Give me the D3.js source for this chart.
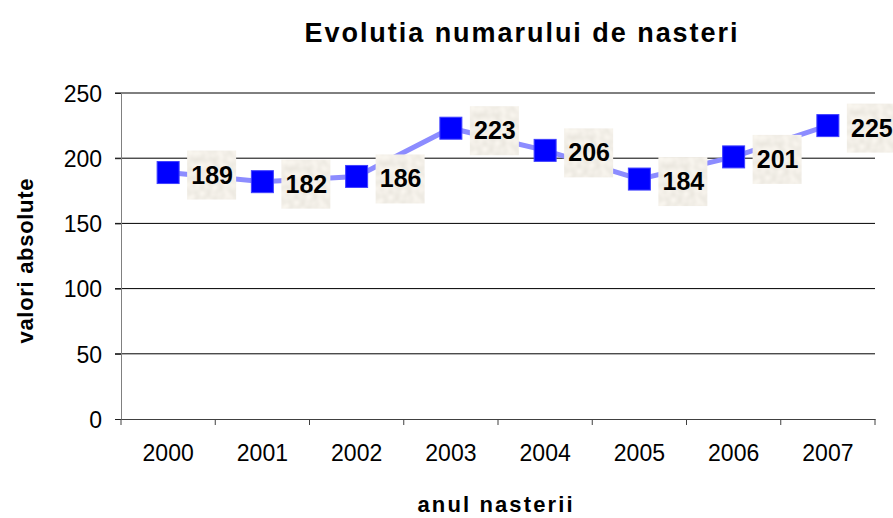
<!DOCTYPE html>
<html>
<head>
<meta charset="utf-8">
<script src="https://cdn.jsdelivr.net/npm/d3@7"></script>
<style>
  body { margin: 0; background: #fff; }
  text { font-family: "Liberation Sans", Arial, sans-serif; }
</style>
</head>
<body>
<svg width="893" height="518"></svg>
<script>
// Data
let years = ["2000", "2001", "2002", "2003", "2004", "2005", "2006", "2007"];
let births = [189, 182, 186, 223, 206, 184, 201, 225];
let yTicks = [0, 50, 100, 150, 200, 250];

let svg = d3.select("svg");
let margin = { top: 93, right: 18, bottom: 99, left: 121 };
let width = +svg.attr("width") - margin.left - margin.right;
let height = +svg.attr("height") - margin.top - margin.bottom;

let x = d3.scaleBand().domain(years).range([0, width]);
let y = d3.scaleLinear().domain([0, 250]).range([height, 0]);

// texture for the label boxes
let defs = svg.append("defs");
let filt = defs.append("filter").attr("id", "paper")
  .attr("x", 0).attr("y", 0).attr("width", 1).attr("height", 1);
filt.append("feTurbulence").attr("type", "fractalNoise")
  .attr("baseFrequency", 0.16).attr("numOctaves", 1).attr("seed", 5).attr("result", "noise");
filt.append("feColorMatrix").attr("in", "noise").attr("type", "matrix")
  .attr("values", "0.22 0 0 0 0.78  0.22 0 0 0 0.75  0.22 0 0 0 0.69  0 0 0 0 1")
  .attr("result", "tint");
filt.append("feComposite").attr("in", "tint").attr("in2", "SourceGraphic").attr("operator", "in");

let g = svg.append("g").attr("transform", `translate(${margin.left},${margin.top})`);

// gridlines (extend over the tick marks)
g.append("g")
  .selectAll("line")
  .data(yTicks.filter(d => d > 0))
  .enter().append("line")
  .attr("x1", -6).attr("x2", width)
  .attr("y1", d => y(d)).attr("y2", d => y(d))
  .attr("stroke", "#000").attr("stroke-width", 1);

// y axis
let yAxis = g.append("g")
  .call(d3.axisLeft(y).tickValues(yTicks).tickSize(6).tickPadding(13));
yAxis.select(".domain").attr("stroke", "#808080");
yAxis.selectAll(".tick line").attr("stroke", "#202020");
yAxis.selectAll("text").attr("font-size", 23).attr("fill", "#000")
  .attr("dy", "0.36em")
  .attr("font-family", "Liberation Sans, Arial, sans-serif");

// x axis
let xAxis = g.append("g")
  .attr("transform", `translate(0,${height})`)
  .call(d3.axisBottom(x).tickSize(0).tickPadding(26));
xAxis.select(".domain").attr("stroke", "#404040");
xAxis.selectAll(".tick line").remove();
xAxis.selectAll("text").attr("font-size", 23).attr("fill", "#000")
  .attr("font-family", "Liberation Sans, Arial, sans-serif");
// category boundary ticks
g.append("g")
  .selectAll("line")
  .data(d3.range(years.length + 1))
  .enter().append("line")
  .attr("x1", d => d * x.step()).attr("x2", d => d * x.step())
  .attr("y1", height).attr("y2", height + 6)
  .attr("stroke", "#404040");

let cx = d => x(d) + x.bandwidth() / 2;

// line
let line = d3.line()
  .x((d, i) => cx(years[i]))
  .y(d => y(d));
g.append("path")
  .datum(births)
  .attr("d", line)
  .attr("fill", "none")
  .attr("stroke", "#8c8cff")
  .attr("stroke-width", 5);

// markers
g.append("g")
  .selectAll("rect")
  .data(births)
  .enter().append("rect")
  .attr("x", (d, i) => cx(years[i]) - 11)
  .attr("y", d => y(d) - 11)
  .attr("width", 22).attr("height", 22)
  .attr("fill", "#0000ff")
  .attr("stroke", "#4040ff")
  .attr("stroke-width", 1);

// data labels
let labels = g.append("g")
  .selectAll("g")
  .data(births)
  .enter().append("g")
  .attr("transform", (d, i) => `translate(${cx(years[i]) + 19},${y(d) - 22})`);
labels.append("rect")
  .attr("width", 49).attr("height", 49)
  .attr("fill", "#e4dccf")
  .attr("filter", "url(#paper)");
labels.append("text")
  .attr("x", 25).attr("y", 33)
  .attr("text-anchor", "middle")
  .attr("font-size", 25)
  .attr("font-weight", "bold")
  .text(d => d);

// titles
svg.append("text")
  .attr("x", 521).attr("y", 42)
  .attr("text-anchor", "middle")
  .attr("font-size", 27).attr("font-weight", "bold")
  .attr("textLength", 433).attr("lengthAdjust", "spacing")
  .text("Evolutia numarului de nasteri");

svg.append("text")
  .attr("transform", "translate(33,261) rotate(-90)")
  .attr("text-anchor", "middle")
  .attr("font-size", 22).attr("font-weight", "bold")
  .attr("textLength", 165).attr("lengthAdjust", "spacing")
  .text("valori absolute");

svg.append("text")
  .attr("x", 495).attr("y", 512)
  .attr("text-anchor", "middle")
  .attr("font-size", 22).attr("font-weight", "bold")
  .attr("textLength", 155).attr("lengthAdjust", "spacing")
  .text("anul nasterii");
</script>
</body>
</html>
